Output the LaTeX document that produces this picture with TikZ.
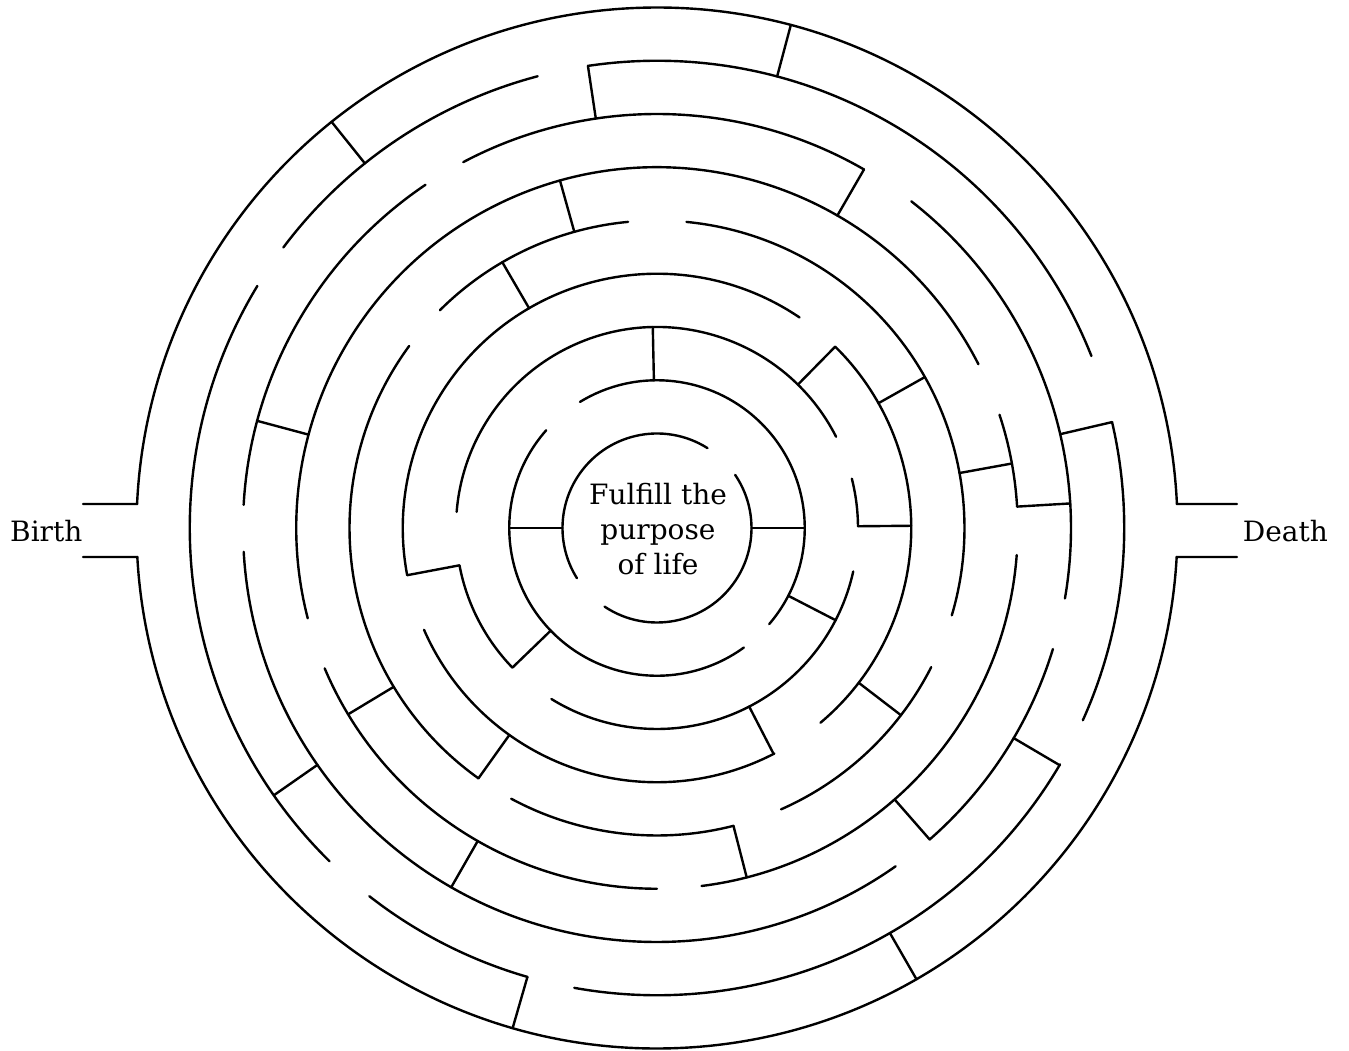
\documentclass[tikz,border=0pt]{standalone}
\usepackage{fontspec}
\setmainfont{DejaVu Serif}
\newcommand\wallarc[3]{\draw (#2:#1) arc[start angle=#2,end angle=#3,radius=#1];}
\newcommand\wallrad[3]{\draw (#1:#2) -- (#1:#3);}
\begin{document}
\begin{tikzpicture}[x=1pt,y=1pt,line width=2.4pt,line cap=round,line join=miter,
  lbl/.style={font=\fontsize{28}{35}\selectfont}]
\useasboundingbox (-657,-523) rectangle (692,528);
% C0 r=94.5
\wallarc{94.5}{57.7}{212.1}
\wallarc{94.5}{-123.7}{34.2}
% C1 r=147.75
\wallarc{147.75}{-40.6}{121.4}
\wallarc{147.75}{138.6}{306}
% C2 r=201
\wallarc{201}{0.5}{14.2}
\wallarc{201}{27}{175.4}
\wallarc{201}{190.8}{224}
\wallarc{201}{238.3}{347.5}
% C3 r=254.25
\wallarc{254.25}{55.9}{190.6}
\wallarc{254.25}{203.6}{297.5}
\wallarc{254.25}{-50}{45.5}
% C4 r=307.5
\wallarc{307.5}{95.4}{134.9}
\wallarc{307.5}{143.7}{234.5}
\wallarc{307.5}{241.7}{284.4}
\wallarc{307.5}{293.8}{333.1}
\wallarc{307.5}{-16.5}{84.5}
% C5 r=360.75
\wallarc{360.75}{3.4}{18.3}
\wallarc{360.75}{27}{194.5}
\wallarc{360.75}{202.9}{270}
\wallarc{360.75}{277.1}{355.7}
% C6 r=414
\wallarc{414}{60}{117.9}
\wallarc{414}{124}{176.8}
\wallarc{414}{183.3}{305.2}
\wallarc{414}{311.2}{343}
\wallarc{414}{-9.8}{52.1}
% C7 r=467.25
\wallarc{467.25}{21.6}{98.5}
\wallarc{467.25}{104.8}{143.1}
\wallarc{467.25}{148.8}{225.5}
\wallarc{467.25}{232}{253.9}
\wallarc{467.25}{259.8}{329.6}
\wallarc{467.25}{-24.3}{13.1}
% C8 r=520.5
\wallarc{520.5}{2.64}{177.36}
\wallarc{520.5}{183.19}{356.81}
% radial walls
\wallrad{0}{94.5}{147.75}
\wallrad{180}{94.5}{147.75}
\wallrad{91.2}{147.75}{201}
\wallrad{224}{147.75}{201}
\wallrad{-27.3}{147.75}{201}
\wallrad{0.5}{201}{254.25}
\wallrad{45.5}{201}{254.25}
\wallrad{190.7}{201}{254.25}
\wallrad{-62.7}{201}{254.25}
\wallrad{29.4}{254.25}{307.5}
\wallrad{120.2}{254.25}{307.5}
\wallrad{234.5}{254.25}{307.5}
\wallrad{-37.5}{254.25}{307.5}
\wallrad{10.3}{307.5}{360.75}
\wallrad{105.6}{307.5}{360.75}
\wallrad{211.1}{307.5}{360.75}
\wallrad{-75.6}{307.5}{360.75}
\wallrad{3.4}{360.75}{414}
\wallrad{60}{360.75}{414}
\wallrad{165}{360.75}{414}
\wallrad{240.2}{360.75}{414}
\wallrad{-48.8}{360.75}{414}
\wallrad{13.1}{414}{467.25}
\wallrad{98.5}{414}{467.25}
\wallrad{214.9}{414}{467.25}
\wallrad{-30.5}{414}{467.25}
\wallrad{75.1}{467.25}{520.5}
\wallrad{128.7}{467.25}{520.5}
\wallrad{253.9}{467.25}{520.5}
\wallrad{-60.1}{467.25}{520.5}
% entrance and exit
\coordinate (bt) at (-574,24);
\coordinate (bb) at (-574,-29);
\coordinate (dt) at (580,24);
\coordinate (db) at (580,-29);
\draw (bt) -- (177.36:520.5);
\draw (bb) -- (183.19:520.5);
\draw (dt) -- (2.64:520.5);
\draw (db) -- (-3.19:520.5);
% labels
\node[lbl,anchor=base west,inner sep=0] (birth) at (-648,-13.7) {Birth};
\node[lbl,anchor=base west,inner sep=0] (death) at (584.7,-13.7) {Death};
\node[lbl,anchor=base,inner sep=0] (goal1) at (1,23) {Fulfill the};
\node[lbl,anchor=base,inner sep=0] (goal2) at (1,-12) {purpose};
\node[lbl,anchor=base,inner sep=0] (goal3) at (1,-47) {of life};
\end{tikzpicture}
\end{document}
